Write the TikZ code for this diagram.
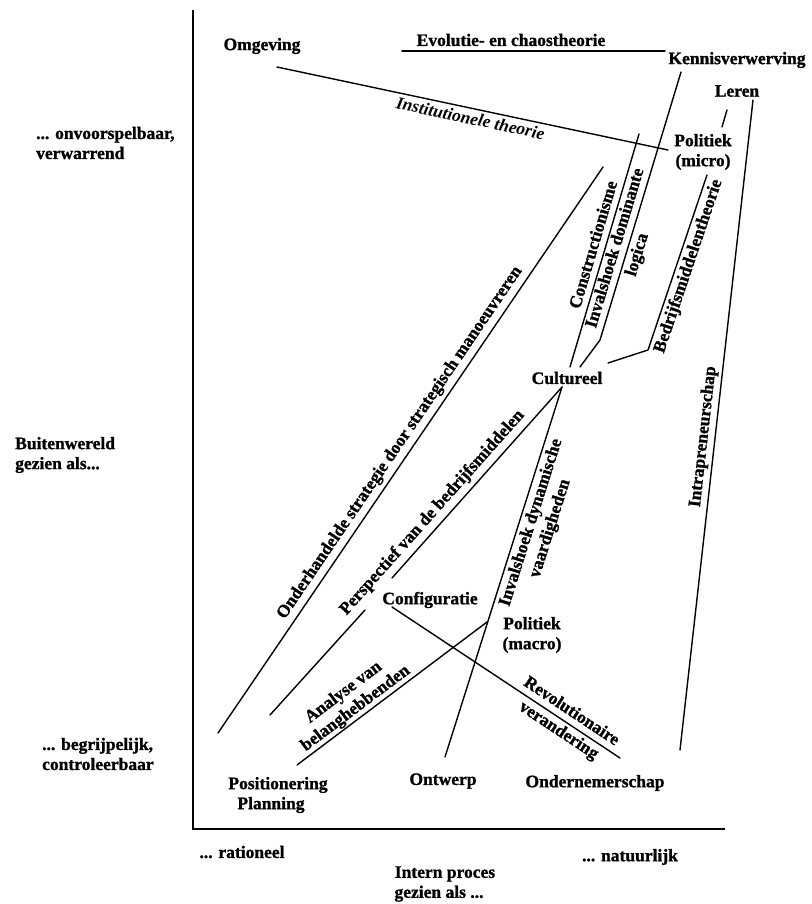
\documentclass[tikz,border=0pt]{standalone}
\usepackage{fontspec}
\setmainfont{Liberation Serif}[BoldFeatures={FakeBold=1.2}]
\begin{document}
\begin{tikzpicture}[x=1pt,y=-1pt,
  lbl/.style={font=\bfseries\fontsize{17.5}{20}\selectfont, inner sep=0pt, align=center},
  lblit/.style={font=\bfseries\itshape\fontsize{17.5}{20}\selectfont, inner sep=0pt, align=center},
  conn/.style={line width=1.4pt, line cap=round, line join=round},
  axisline/.style={line width=2.2pt}]
\useasboundingbox (0,0) rectangle (811,904);

% ---- text nodes
\node[lbl] (omg) at (262,46) {Omgeving};
\node[lbl] (evo) at (511,40) {Evolutie- en chaostheorie};
\node[lbl] (ken) at (737,60) {Kennisverwerving};
\node[lbl] (ler) at (737,91) {Leren};
\node[lbl] (polmi) at (703,152) {Politiek\\(micro)};
\node[lbl] (cul) at (567,378) {Cultureel};
\node[lbl] (conf) at (430,600) {Configuratie};
\node[lbl] (polma) at (532,635) {Politiek\\(macro)};
\node[lbl] (pos) at (278,795) {Positionering\\\hspace*{-14pt}Planning};
\node[lbl] (ontw) at (443,781) {Ontwerp};
\node[lbl] (ond) at (595,783) {Ondernemerschap};

\node[lbl, anchor=west, align=left] (onv) at (36,143) {... onvoorspelbaar,\\verwarrend};
\node[lbl, anchor=west, align=left] (buit) at (15,455) {Buitenwereld\\gezien als...};
\node[lbl, anchor=west, align=left] (begr) at (42,754) {... begrijpelijk,\\controleerbaar};
\node[lbl] (rat) at (242,852) {... rationeel};
\node[lbl] (intern) at (445,884) {Intern proces\\\hspace*{-12pt}gezien als ...};
\node[lbl] (nat) at (630,857) {... natuurlijk};

% ---- connector end points
\coordinate (evoA) at (402,51);  \coordinate (evoB) at (665,51);
\coordinate (insA) at (277,67);  \coordinate (insB) at (668,150);
\coordinate (kenA) at (681,72);  \coordinate (kenB) at (600,340); \coordinate (kenC) at (580,367);
\coordinate (conA) at (639,134); \coordinate (conB) at (570,367);
\coordinate (lerA) at (727,110); \coordinate (lerB) at (722,127);
\coordinate (bedA) at (707,175); \coordinate (bedB) at (648,350); \coordinate (bedC) at (608,363);
\coordinate (intA) at (753,100); \coordinate (intB) at (680,750);
\coordinate (ondA) at (603,167); \coordinate (ondB) at (218,733);
\coordinate (culB) at (562,387);
\coordinate (perA) at (392,578); \coordinate (perB) at (365,610); \coordinate (perC) at (270,715);
\coordinate (dynB) at (445,757);
\coordinate (anaA) at (487,622); \coordinate (anaB) at (297,765);
\coordinate (revA) at (392,607); \coordinate (revB) at (620,758);

\coordinate (axTop) at (193,10); \coordinate (axO) at (193,829); \coordinate (axR) at (725,829);

% ---- axes
\draw[axisline] (axTop) -- (axO) -- (axR);

% ---- connectors
\draw[conn] (evoA) -- (evoB);
\draw[conn] (insA) -- node[lblit, sloped, below=3pt, pos=0.5] {Institutionele theorie} (insB);
\draw[conn] (kenC) -- (kenB) -- node[lbl, sloped, pos=0.33] {Invalshoek dominante\\[3pt]logica} (kenA);
\draw[conn] (conB) -- node[lbl, sloped, above=6pt, pos=0.51] {Constructionisme} (conA);
\draw[conn] (lerA) -- (lerB);
\draw[conn] (bedC) -- (bedB) -- node[lbl, sloped, below=3pt, pos=0.5] {Bedrijfsmiddelentheorie} (bedA);
\draw[conn] (intB) -- node[lbl, sloped, above=3pt, pos=0.48] {Intrapreneurschap} (intA);
\draw[conn] (ondB) -- node[lbl, sloped, above=4pt, pos=0.5] {Onderhandelde strategie door strategisch manoeuvreren} (ondA);
\draw[conn] (culB) -- (perA);
\draw[conn] (perB) -- (perC);
\path (perC) -- node[lbl, sloped, above=5pt, pos=0.59] {Perspectief van de bedrijfsmiddelen} (culB);
\draw[conn] (dynB) -- node[lbl, sloped, below=3pt, pos=0.643] {Invalshoek dynamische\\vaardigheden} (culB);
\draw[conn] (anaB) -- node[lbl, sloped, above=1pt, pos=0.34] {Analyse van\\belanghebbenden} (anaA);
\draw[conn] (revA) -- node[lbl, sloped, pos=0.758] {Revolutionaire\\[3pt]verandering} (revB);
\end{tikzpicture}
\end{document}
